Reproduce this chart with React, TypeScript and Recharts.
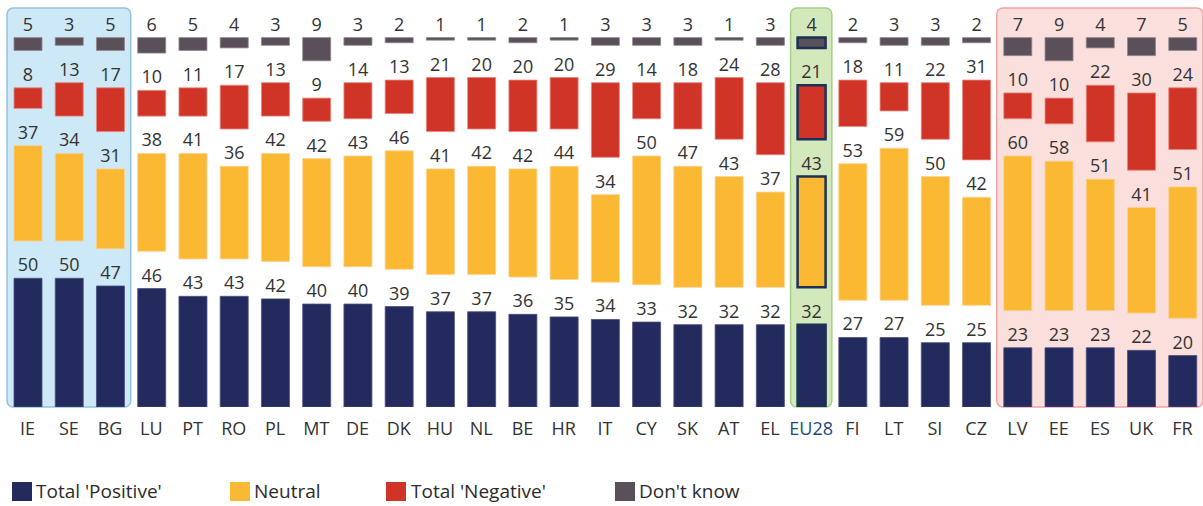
import React from 'react';
import { BarChart, Bar, XAxis, YAxis, ReferenceArea, LabelList, Cell, Legend } from 'recharts';

const categories = ['IE','SE','BG','LU','PT','RO','PL','MT','DE','DK','HU','NL','BE','HR','IT','CY','SK','AT','EL','EU28','FI','LT','SI','CZ','LV','EE','ES','UK','FR'];
const positive = [50,50,47,46,43,43,42,40,40,39,37,37,36,35,34,33,32,32,32,32,27,27,25,25,23,23,23,22,20];
const neutral = [37,34,31,38,41,36,42,42,43,46,41,42,42,44,34,50,47,43,37,43,53,59,50,42,60,58,51,41,51];
const negative = [8,13,17,10,11,17,13,9,14,13,21,20,20,20,29,14,18,24,28,21,18,11,22,31,10,10,22,30,24];
const dontKnow = [5,3,5,6,5,4,3,9,3,2,1,1,2,1,3,3,3,1,3,4,2,3,3,2,7,9,4,7,5];

const highlightCategory = 'EU28';
const GAP = 14.5;

const series = [
  { key: 'positive', name: "Total 'Positive'", color: '#232b5e', edge: '#4b4f7d' },
  { key: 'neutral', name: 'Neutral', color: '#fbb833', edge: '#fcd08e' },
  { key: 'negative', name: "Total 'Negative'", color: '#d03427', edge: '#e8877e' },
  { key: 'dontKnow', name: "Don't know", color: '#5a5059', edge: '#8f8791' },
];

const data = categories.map((c, i) => ({
  name: c,
  positive: positive[i],
  gap1: GAP,
  neutral: neutral[i],
  gap2: GAP,
  negative: negative[i],
  gap3: GAP,
  dontKnow: dontKnow[i],
}));

const FONT = '"Open Sans", sans-serif';

const Tick = (props: any) => {
  const { x, y, payload } = props;
  return (
    <text x={x} y={y + 28} textAnchor="middle" fontSize={18} fontFamily={FONT}
      fill={payload.value === highlightCategory ? '#24497c' : '#333'}>
      {payload.value}
    </text>
  );
};

const areaShape = (fill: string, stroke: string) => (p: any) => (
  <rect x={p.x} y={p.y} width={p.width} height={p.height} rx={6} ry={6}
    fill={fill} stroke={stroke} strokeWidth={1.5} />
);

const legendPos = [
  { swatch: 12, text: 36 },
  { swatch: 230, text: 254 },
  { swatch: 386, text: 411 },
  { swatch: 615, text: 639 },
];

const LegendContent = () => (
  <div style={{ position: 'relative', width: 1203, height: 36 }}>
    {series.map((s, i) => (
      <React.Fragment key={s.key}>
        <div style={{ position: 'absolute', left: legendPos[i].swatch, top: 12, width: 20, height: 19, background: s.color }} />
        <div style={{ position: 'absolute', left: legendPos[i].text, top: 6, fontFamily: FONT, fontSize: 19, color: '#2b2b2b', whiteSpace: 'nowrap', lineHeight: '30px' }}>
          {s.name}
        </div>
      </React.Fragment>
    ))}
  </div>
);

const segmentOrder = ['positive', 'gap1', 'neutral', 'gap2', 'negative', 'gap3', 'dontKnow'];

export default function App() {
  return (
    <div style={{ position: 'absolute', left: 0, top: 0, background: '#fff' }}>
      <BarChart width={1203} height={506} data={data} barSize={28}
        margin={{ top: 8, right: 0, left: 7, bottom: 69 }}>
        <YAxis hide domain={[0, 155]} allowDataOverflow />
        <XAxis dataKey="name" axisLine={false} tickLine={false} tickSize={0} tickMargin={0}
          height={30} interval={0} tick={<Tick />} />
        <ReferenceArea x1="IE" x2="BG" y1={0} y2={155} ifOverflow="visible"
          shape={areaShape('#cde8f6', '#93c4dc')} />
        <ReferenceArea x1="EU28" x2="EU28" y1={0} y2={155} ifOverflow="visible"
          shape={areaShape('#d3e8bb', '#a6cf8c')} />
        <ReferenceArea x1="LV" x2="FR" y1={0} y2={155} ifOverflow="visible"
          shape={areaShape('#fbdfdc', '#f3a3a3')} />
        <Legend layout="horizontal" verticalAlign="middle" align="center"
          wrapperStyle={{ left: 0, top: 470, width: 1203, height: 36 }}
          content={<LegendContent />} />
        {segmentOrder.map((k) => {
          const s = series.find((x) => x.key === k);
          if (!s) {
            return (
              <Bar key={k} dataKey={k} stackId="a" fill="transparent" fillOpacity={0}
                isAnimationActive={false} legendType="none" />
            );
          }
          return (
            <Bar key={k} dataKey={k} name={s.name} stackId="a" fill={s.color}
              isAnimationActive={false}>
              {data.map((d) => (
                <Cell key={d.name} fill={s.color}
                  stroke={d.name === highlightCategory ? '#1b3157' : s.edge}
                  strokeWidth={d.name === highlightCategory ? 2.5 : 0.8} />
              ))}
              <LabelList dataKey={k} position="top" offset={7}
                style={{ fill: '#333', fontSize: 18, fontFamily: FONT }} />
            </Bar>
          );
        })}
      </BarChart>
    </div>
  );
}
